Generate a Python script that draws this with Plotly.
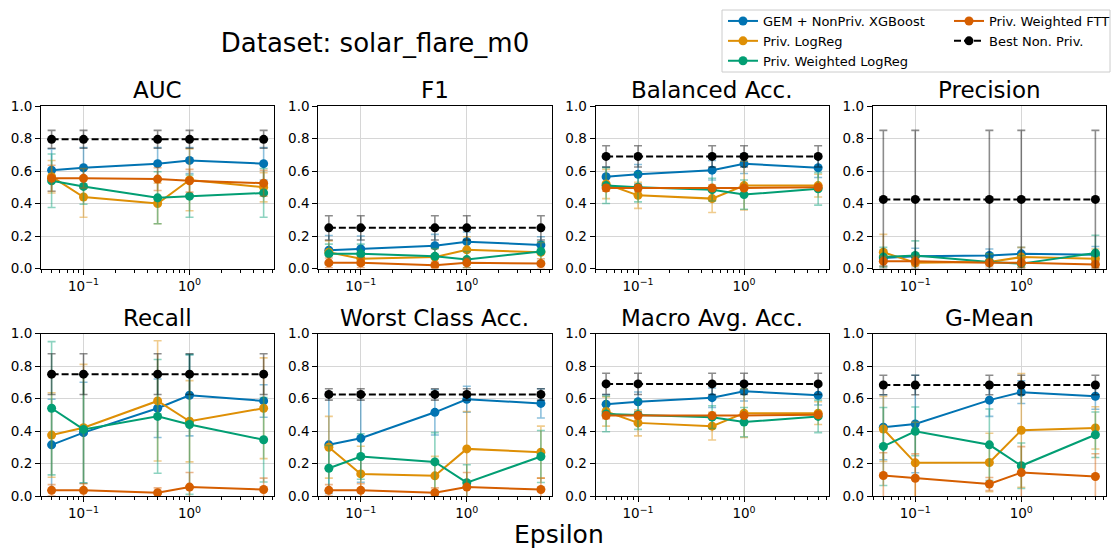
import plotly.graph_objects as go
from plotly.subplots import make_subplots

epsilons = [0.05, 0.1, 0.5, 1.0, 5.0]
metrics = ["AUC", "F1", "Balanced Acc.", "Precision",
           "Recall", "Worst Class Acc.", "Macro Avg. Acc.", "G-Mean"]
series_names = ["GEM + NonPriv. XGBoost", "Priv. LogReg", "Priv. Weighted LogReg",
                "Priv. Weighted FTT", "Best Non. Priv."]

gem_mean = [
    [0.605, 0.62, 0.645, 0.665, 0.645],
    [0.113, 0.12, 0.14, 0.165, 0.145],
    [0.565, 0.58, 0.605, 0.645, 0.62],
    [0.065, 0.075, 0.08, 0.09, 0.085],
    [0.315, 0.39, 0.54, 0.62, 0.585],
    [0.315, 0.355, 0.515, 0.595, 0.57],
    [0.565, 0.58, 0.605, 0.645, 0.62],
    [0.423, 0.443, 0.59, 0.639, 0.614],
]
gem_err = [
    [0.13, 0.125, 0.10, 0.08, 0.10],
    [0.09, 0.08, 0.07, 0.06, 0.05],
    [0.06, 0.06, 0.06, 0.06, 0.06],
    [0.05, 0.05, 0.04, 0.04, 0.05],
    [0.28, 0.31, 0.18, 0.25, 0.10],
    [0.30, 0.27, 0.14, 0.08, 0.09],
    [0.06, 0.06, 0.06, 0.06, 0.06],
    [0.20, 0.30, 0.10, 0.07, 0.08],
]
logreg_mean = [
    [0.565, 0.44, 0.40, 0.545, 0.50],
    [0.10, 0.06, 0.07, 0.115, 0.10],
    [0.52, 0.45, 0.43, 0.51, 0.51],
    [0.10, 0.035, 0.04, 0.07, 0.06],
    [0.375, 0.42, 0.585, 0.46, 0.54],
    [0.30, 0.136, 0.124, 0.29, 0.27],
    [0.52, 0.45, 0.43, 0.51, 0.51],
    [0.412, 0.204, 0.206, 0.404, 0.419],
]
logreg_err = [
    [0.10, 0.125, 0.125, 0.19, 0.09],
    [0.07, 0.04, 0.05, 0.08, 0.06],
    [0.09, 0.08, 0.085, 0.15, 0.07],
    [0.11, 0.05, 0.05, 0.06, 0.06],
    [0.26, 0.39, 0.37, 0.25, 0.31],
    [0.19, 0.17, 0.12, 0.23, 0.16],
    [0.09, 0.08, 0.085, 0.15, 0.07],
    [0.20, 0.25, 0.18, 0.35, 0.13],
]
wlogreg_mean = [
    [0.54, 0.505, 0.435, 0.445, 0.465],
    [0.09, 0.09, 0.075, 0.055, 0.105],
    [0.51, 0.50, 0.485, 0.455, 0.49],
    [0.07, 0.08, 0.04, 0.03, 0.095],
    [0.54, 0.41, 0.49, 0.44, 0.346],
    [0.171, 0.243, 0.21, 0.082, 0.243],
    [0.505, 0.50, 0.485, 0.455, 0.49],
    [0.305, 0.398, 0.315, 0.186, 0.377],
]
wlogreg_err = [
    [0.165, 0.11, 0.16, 0.13, 0.15],
    [0.06, 0.06, 0.05, 0.05, 0.06],
    [0.11, 0.09, 0.07, 0.09, 0.10],
    [0.06, 0.09, 0.05, 0.05, 0.11],
    [0.41, 0.33, 0.35, 0.43, 0.26],
    [0.14, 0.14, 0.18, 0.11, 0.16],
    [0.11, 0.09, 0.07, 0.09, 0.10],
    [0.24, 0.15, 0.22, 0.14, 0.14],
]
ftt_mean = [
    [0.555, 0.555, 0.55, 0.54, 0.525],
    [0.035, 0.035, 0.02, 0.035, 0.03],
    [0.495, 0.495, 0.495, 0.495, 0.50],
    [0.045, 0.045, 0.035, 0.035, 0.025],
    [0.035, 0.035, 0.02, 0.055, 0.04],
    [0.035, 0.035, 0.02, 0.055, 0.04],
    [0.495, 0.495, 0.495, 0.495, 0.50],
    [0.126, 0.109, 0.074, 0.144, 0.12],
]
ftt_err = [
    [0.08, 0.06, 0.07, 0.07, 0.08],
    [0.03, 0.03, 0.02, 0.03, 0.03],
    [0.02, 0.02, 0.01, 0.01, 0.01],
    [0.03, 0.03, 0.02, 0.03, 0.02],
    [0.035, 0.04, 0.03, 0.09, 0.07],
    [0.035, 0.04, 0.03, 0.09, 0.07],
    [0.02, 0.02, 0.01, 0.01, 0.01],
    [0.14, 0.15, 0.04, 0.16, 0.14],
]
best_mean = [0.795, 0.25, 0.69, 0.425, 0.75, 0.625, 0.69, 0.683]
best_err = [0.055, 0.075, 0.065, 0.425, 0.125, 0.035, 0.065, 0.06]

colors = ["#0173B2", "#DE8F05", "#029E73", "#D55E00", "#000000"]
err_colors = ["rgba(1,115,178,0.45)", "rgba(222,143,5,0.45)", "rgba(2,158,115,0.45)",
              "rgba(213,94,0,0.45)", "rgba(0,0,0,0.45)"]
legend_ids = ["legend", "legend", "legend", "legend2", "legend2"]

FONT = "DejaVu Sans"
W, H = 1112, 548
ML, MR, MT, MB = 41, 6, 106, 52
PW = W - ML - MR
PH = H - MT - MB

fig = make_subplots(rows=2, cols=4, horizontal_spacing=44 / PW, vertical_spacing=65 / PH)

minor_vals = [0.02, 0.03, 0.04, 0.05, 0.06, 0.07, 0.08, 0.09,
              0.2, 0.3, 0.4, 0.5, 0.6, 0.7, 0.8, 0.9,
              2, 3, 4, 5, 6, 7, 8, 9]

for m in range(8):
    r, c = m // 4 + 1, m % 4 + 1
    all_means = [gem_mean[m], logreg_mean[m], wlogreg_mean[m], ftt_mean[m],
                 [best_mean[m]] * len(epsilons)]
    all_errs = [gem_err[m], logreg_err[m], wlogreg_err[m], ftt_err[m],
                [best_err[m]] * len(epsilons)]
    for s in range(5):
        fig.add_trace(go.Scatter(
            x=epsilons, y=all_means[s], mode="lines+markers",
            name=series_names[s],
            line=dict(color=colors[s], width=2, dash="7px,3px" if s == 4 else "solid"),
            marker=dict(color=colors[s], size=9),
            error_y=dict(type="data", array=all_errs[s], visible=True,
                         color=err_colors[s], thickness=1.6, width=4),
            showlegend=(m == 0), legend=legend_ids[s],
        ), row=r, col=c)
    fig.update_xaxes(
        type="log", range=[-1.401, 0.799],
        tickvals=[0.1, 1], ticktext=["10<sup>−1</sup>", "10<sup>0</sup>"],
        ticks="outside", ticklen=5, tickcolor="black",
        showgrid=True, gridcolor="#d6d6d6", gridwidth=1,
        showline=True, linecolor="black", linewidth=1, mirror=True,
        minor=dict(tickvals=minor_vals, ticks="outside", ticklen=3, tickcolor="black", showgrid=False),
        tickfont=dict(size=13.5, color="black", family=FONT), zeroline=False,
        row=r, col=c)
    fig.update_yaxes(
        range=[0, 1], tickvals=[0, 0.2, 0.4, 0.6, 0.8, 1.0],
        ticktext=["0.0", "0.2", "0.4", "0.6", "0.8", "1.0"],
        ticks="outside", ticklen=5, tickcolor="black",
        showgrid=True, gridcolor="#d6d6d6", gridwidth=1,
        showline=True, linecolor="black", linewidth=1, mirror=True,
        tickfont=dict(size=13.5, color="black", family=FONT), zeroline=False,
        row=r, col=c)

annotations = []
for m in range(8):
    xa = fig.layout["xaxis" + ("" if m == 0 else str(m + 1))]
    ya = fig.layout["yaxis" + ("" if m == 0 else str(m + 1))]
    annotations.append(dict(
        text=metrics[m], x=(xa.domain[0] + xa.domain[1]) / 2, y=ya.domain[1],
        xref="paper", yref="paper", xanchor="center", yanchor="bottom",
        yshift=1, showarrow=False, font=dict(size=23, color="black", family=FONT)))
annotations.append(dict(
    text="Epsilon", x=(559 - ML) / PW, y=(MT + PH - 534) / PH,
    xref="paper", yref="paper", xanchor="center", yanchor="middle",
    showarrow=False, font=dict(size=25, color="black", family=FONT)))


def px_x(p):
    return (p - ML) / PW


def px_y(p):
    return 1 - (p - MT) / PH


fig.update_layout(
    width=W, height=H,
    margin=dict(l=ML, r=MR, t=MT, b=MB, autoexpand=False),
    paper_bgcolor="white", plot_bgcolor="white",
    font=dict(family=FONT, color="black"),
    title=dict(text="Dataset: solar_flare_m0", x=375 / W, xref="container", xanchor="center",
               y=1 - 43 / H, yref="container", yanchor="middle",
               font=dict(size=26, color="black", family=FONT)),
    annotations=annotations,
    shapes=[dict(type="rect", xref="paper", yref="paper",
                 x0=px_x(722), x1=px_x(1110), y0=px_y(72), y1=px_y(10),
                 line=dict(color="#cccccc", width=1), fillcolor="white", layer="below")],
    legend=dict(x=px_x(723), y=px_y(6), xanchor="left", yanchor="top",
                bgcolor="rgba(0,0,0,0)", borderwidth=0, orientation="v",
                font=dict(size=13, color="black", family=FONT), tracegroupgap=0),
    legend2=dict(x=px_x(949), y=px_y(6), xanchor="left", yanchor="top",
                 bgcolor="rgba(0,0,0,0)", borderwidth=0, orientation="v",
                 font=dict(size=13, color="black", family=FONT), tracegroupgap=0),
)

fig.write_html("out.html", config={"displayModeBar": False},
               post_script="document.body.style.margin='0px';document.body.style.overflow='hidden';")
